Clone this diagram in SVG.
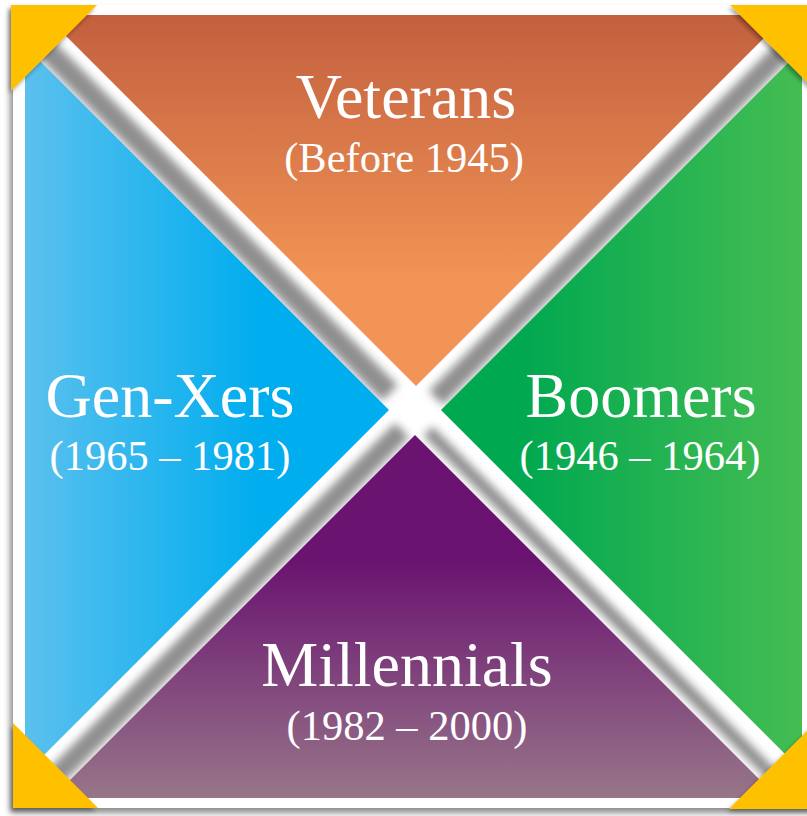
<svg xmlns="http://www.w3.org/2000/svg" width="807" height="816" viewBox="0 0 807 816">
  <defs>
    <filter id="drop" x="-10%" y="-10%" width="120%" height="120%">
      <feDropShadow dx="-3" dy="5" stdDeviation="3" flood-color="#000" flood-opacity="0.45"/>
    </filter>
    <filter id="cornerDrop" x="-30%" y="-30%" width="160%" height="160%">
      <feDropShadow dx="-2" dy="3" stdDeviation="2" flood-color="#000" flood-opacity="0.35"/>
    </filter>
    <filter id="blur" x="-20%" y="-20%" width="140%" height="140%">
      <feGaussianBlur stdDeviation="4"/>
    </filter>
    <linearGradient id="gOrange" gradientUnits="userSpaceOnUse" x1="0" y1="15" x2="0" y2="280">
      <stop offset="0" stop-color="#C2603F"/>
      <stop offset="1" stop-color="#F29455"/>
    </linearGradient>
    <linearGradient id="gBlue" gradientUnits="userSpaceOnUse" x1="25" y1="0" x2="260" y2="0">
      <stop offset="0" stop-color="#5BC0EE"/>
      <stop offset="1" stop-color="#00ADEE"/>
    </linearGradient>
    <linearGradient id="gGreen" gradientUnits="userSpaceOnUse" x1="520" y1="0" x2="802" y2="0">
      <stop offset="0" stop-color="#00A850"/>
      <stop offset="1" stop-color="#45BD53"/>
    </linearGradient>
    <linearGradient id="gPurple" gradientUnits="userSpaceOnUse" x1="0" y1="560" x2="0" y2="798">
      <stop offset="0" stop-color="#6A1370"/>
      <stop offset="1" stop-color="#977689"/>
    </linearGradient>
    <style>
      .title { font-family: "Liberation Serif", "Times New Roman", serif; fill: #ffffff; text-anchor: middle; }
      .big { font-size: 64px; }
      .small { font-size: 42.5px; }
      .corner { fill: #FFC000; }
      .band { stroke: #8f8f8f; stroke-linecap: butt; fill: none; }
    </style>
  </defs>

  <rect width="807" height="816" fill="#ffffff"/>

  <g id="frame">
    <rect x="13" y="5" width="810" height="803" fill="#ffffff" filter="url(#drop)"/>
  </g>

  <g id="connectors">
    <g filter="url(#blur)">
      <line class="band" x1="28" y1="31" x2="390" y2="393" stroke-width="22"/>
      <line class="band" x1="436" y1="398" x2="796" y2="38" stroke-width="20"/>
      <line class="band" x1="402" y1="430" x2="42" y2="790" stroke-width="20"/>
      <line class="band" x1="428" y1="431" x2="788" y2="791" stroke-width="13"/>
    </g>
  </g>

  <g id="veterans">
    <polygon points="45,15 787,15 416,386" fill="url(#gOrange)"/>
    <text class="title big" x="406" y="118">Veterans</text>
    <text class="title small" x="404" y="172">(Before 1945)</text>
  </g>

  <g id="gen-xers">
    <polygon points="25,46 389,410 25,774" fill="url(#gBlue)"/>
    <text class="title big" x="170" y="417">Gen-Xers</text>
    <text class="title small" x="170" y="470">(1965 – 1981)</text>
  </g>

  <g id="boomers">
    <polygon points="802,49 441,410 802,771" fill="url(#gGreen)"/>
    <text class="title big" x="641" y="417">Boomers</text>
    <text class="title small" x="640" y="470">(1946 – 1964)</text>
  </g>

  <g id="millennials">
    <polygon points="415,435 778,798 52,798" fill="url(#gPurple)"/>
    <text class="title big" x="407" y="686">Millennials</text>
    <text class="title small" x="407" y="740">(1982 – 2000)</text>
  </g>

  <g id="corners" filter="url(#cornerDrop)">
    <polygon id="corner-tl" class="corner" points="11,5 97,5 11,91"/>
    <polygon id="corner-tr" class="corner" points="730,5 815,5 815,90"/>
    <polygon id="corner-bl" class="corner" points="13,723 13,808 98,808"/>
    <polygon id="corner-br" class="corner" points="813,725 813,809 729,809"/>
  </g>
</svg>
